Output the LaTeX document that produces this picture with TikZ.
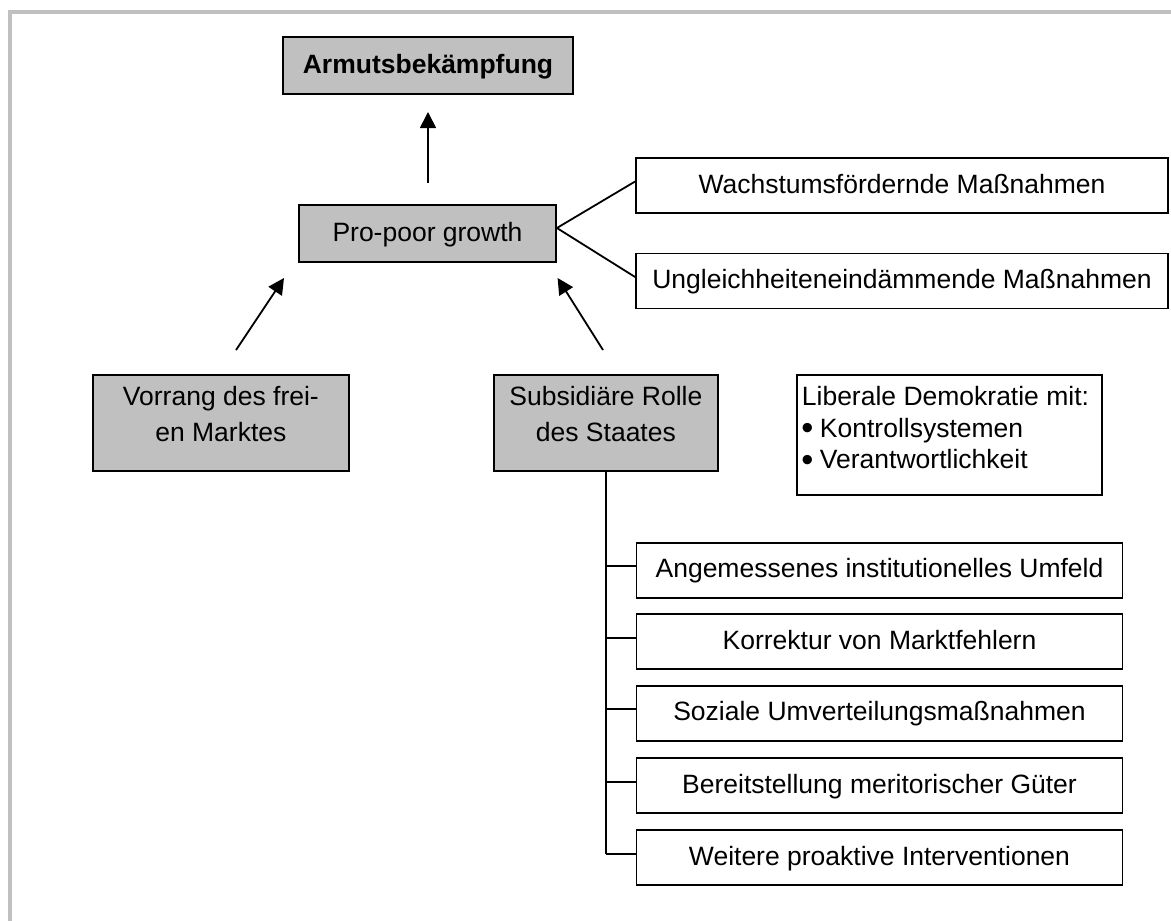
\documentclass[tikz,border=0pt]{standalone}
\usepackage{fontspec}
\usepackage{graphicx}
\setmainfont{Liberation Sans}
\usetikzlibrary{arrows.meta}
\definecolor{boxgray}{HTML}{C0C0C0}
\definecolor{framegray}{HTML}{C0C0C0}
\newcommand{\txt}{\fontsize{26.5}{31.5}\selectfont}
\newcommand{\bigbullet}{\hspace*{4.5pt}\raisebox{-2.3pt}{\scalebox{1.3}{•}}\hspace*{6.5pt}}
\begin{document}
\begin{tikzpicture}[x=1pt,y=-1pt,
  every node/.style={inner sep=0pt, font=\txt},
  plainbox/.style={draw=black, line width=1.8pt, fill=white, align=center,
                   text height=19pt, text depth=4pt},
  shadedbox/.style={plainbox, fill=boxgray},
  tallbox/.style={draw=black, line width=1.8pt, fill=boxgray},
  link/.style={line width=1.8pt, black},
  pointer/.style={link, -{Triangle[length=16pt,width=16pt]}}]

\useasboundingbox (0,0) rectangle (1171,921);
\fill[white] (0,0) rectangle (1171,921);

% outer frame (top and left edges only)
\draw[framegray, line width=4pt, line join=miter] (10.3,921) -- (10.3,12) -- (1171,12);

% goal and growth
\node[shadedbox, minimum width=290pt, minimum height=57pt, font=\txt\bfseries]
  (armut) at (428,65.5) {Armutsbekämpfung};
\node[shadedbox, minimum width=257pt, minimum height=57pt]
  (growth) at (427.5,233.5) {Pro-poor growth};

% growth measures
\node[plainbox, minimum width=532pt, minimum height=55pt]
  (wachs) at (902,185.5) {Wachstumsfördernde Maßnahmen};
\node[plainbox, minimum width=532pt, minimum height=55pt]
  (ungl) at (902,281) {Ungleichheiteneindämmende Maßnahmen};

% pillars
\node[tallbox, anchor=north west] (markt) at (92,374)
  {\parbox[t][96pt][t]{256pt}{\fontsize{26.5}{36}\selectfont\centering
   \rule{0pt}{31pt}Vorrang des frei-\\en Marktes}};
\node[tallbox, anchor=north west] (staat) at (493,374)
  {\parbox[t][96pt][t]{224pt}{\fontsize{26.5}{36}\selectfont\centering
   \rule{0pt}{31pt}Subsidiäre Rolle\\des Staates}};

% democracy box
\node[draw=black, line width=1.8pt, fill=white, anchor=north west] (demo) at (796,374)
  {\parbox[t][120pt][t]{305pt}{\raggedright
   \hspace*{5pt}\rule{0pt}{31pt}Liberale Demokratie mit:\\
   \bigbullet Kontrollsystemen\\
   \bigbullet Verantwortlichkeit}};

% tasks of the state
\node[plainbox, minimum width=486pt, minimum height=55pt]
  (t1) at (879.5,570.2) {Angemessenes institutionelles Umfeld};
\node[plainbox, minimum width=486pt, minimum height=55pt]
  (t2) at (879.5,641.7) {Korrektur von Marktfehlern};
\node[plainbox, minimum width=486pt, minimum height=55pt]
  (t3) at (879.5,713.3) {Soziale Umverteilungsmaßnahmen};
\node[plainbox, minimum width=486pt, minimum height=55pt]
  (t4) at (879.5,785.8) {Bereitstellung meritorischer Güter};
\node[plainbox, minimum width=486pt, minimum height=55pt]
  (t5) at (879.5,857.8) {Weitere proaktive Interventionen};

% arrow ends
\coordinate (topfrom) at (428,183);
\coordinate (topto) at (428,112);
\coordinate (leftfrom) at (236,350);
\coordinate (leftto) at (284,278);
\coordinate (rightfrom) at (603,350);
\coordinate (rightto) at (557.6,278);
\coordinate (fork) at ([yshift=5.5pt]growth.east);

\draw[pointer] (topfrom) -- (topto);
\draw[pointer] (leftfrom) -- (leftto);
\draw[pointer] (rightfrom) -- (rightto);

\draw[link] ([yshift=4pt]wachs.west) -- (fork) -- ([yshift=4pt]ungl.west);

% tree of state tasks
\draw[link] (staat.south) -- ([yshift=4pt]t5.west -| staat.south);
\foreach \t in {t1,t2,t3,t4,t5}
  \draw[link] ([yshift=4pt]\t.west) -- ([yshift=4pt]\t.west -| staat.south);
\end{tikzpicture}
\end{document}
